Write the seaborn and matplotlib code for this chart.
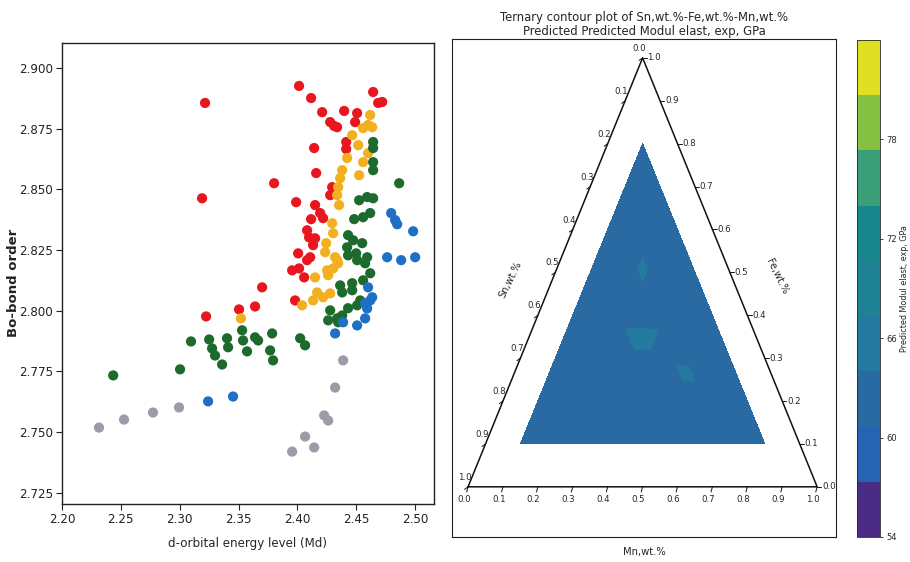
import numpy as np
import pandas as pd
import matplotlib
matplotlib.use("Agg")
import matplotlib.pyplot as plt
import matplotlib.tri as mtri
from matplotlib.colors import ListedColormap
import seaborn as sns

sns.set_theme(style="ticks")
plt.rcParams["font.family"] = ["DejaVu Sans"]

# ---------------- left panel data ----------------
red_md = [2.3215, 2.319, 2.3224, 2.3504, 2.364, 2.370, 2.3802, 2.4014, 2.4116, 2.421,
          2.4278, 2.4312, 2.4337, 2.4397, 2.4507, 2.449, 2.4643, 2.4686, 2.472, 2.4414,
          2.4414, 2.4142, 2.4159, 2.4295, 2.4278, 2.3989, 2.415, 2.4193, 2.4218, 2.4116,
          2.4082, 2.4099, 2.415, 2.4133, 2.4006, 2.4082, 2.4108, 2.3955, 2.4014, 2.4057,
          2.398]
red_bo = [2.8856, 2.8463, 2.7976, 2.8005, 2.8017, 2.8096, 2.8525, 2.8926, 2.8876, 2.8818,
          2.8777, 2.8761, 2.8756, 2.8823, 2.8814, 2.8777, 2.8901, 2.8856, 2.886, 2.8695,
          2.8666, 2.867, 2.8567, 2.8509, 2.8476, 2.8447, 2.8435, 2.8402, 2.8381, 2.8377,
          2.8331, 2.8302, 2.8298, 2.827, 2.8236, 2.8208, 2.822, 2.8166, 2.8174, 2.8137,
          2.8042]

orange_md = [2.352, 2.404, 2.4618, 2.460, 2.4558, 2.4635, 2.4465, 2.4516, 2.460, 2.4422,
             2.4558, 2.4524, 2.438, 2.4363, 2.4346, 2.4337, 2.4354, 2.4295, 2.4303, 2.4244,
             2.4235, 2.432, 2.4346, 2.4303, 2.4252, 2.415, 2.4167, 2.4133, 2.4218, 2.4278,
             2.4337, 2.4261]
orange_bo = [2.7968, 2.8022, 2.8806, 2.8765, 2.8752, 2.8756, 2.8723, 2.8682, 2.8649, 2.8629,
             2.8612, 2.8558, 2.8579, 2.8546, 2.8509, 2.8476, 2.8435, 2.836, 2.8319, 2.8278,
             2.8241, 2.822, 2.8195, 2.8174, 2.8166, 2.8137, 2.8075, 2.8042, 2.8055, 2.8071,
             2.8208, 2.8146]

green_md = [2.2435, 2.3003, 2.3096, 2.325, 2.3275, 2.330, 2.336, 2.3402, 2.3411, 2.353,
            2.3538, 2.3572, 2.364, 2.3666, 2.3785, 2.3768, 2.3793, 2.4023, 2.4065, 2.4643,
            2.4643, 2.4643, 2.4643, 2.4864, 2.4524, 2.4592, 2.4643, 2.4482, 2.4558, 2.4618,
            2.443, 2.4473, 2.455, 2.4422, 2.443, 2.4499, 2.4592, 2.4363, 2.438, 2.4465,
            2.4558, 2.4278, 2.4261, 2.4337, 2.438, 2.443, 2.4507, 2.4533, 2.4507, 2.4575,
            2.4618, 2.4346, 2.4465]
green_bo = [2.7733, 2.7758, 2.7873, 2.7881, 2.7844, 2.7815, 2.7778, 2.7886, 2.7849, 2.7919,
            2.7877, 2.7832, 2.789, 2.7877, 2.7906, 2.7836, 2.7795, 2.7886, 2.7857, 2.8695,
            2.867, 2.8612, 2.8579, 2.8525, 2.8455, 2.8468, 2.8463, 2.8377, 2.8385, 2.8402,
            2.8311, 2.829, 2.8278, 2.8261, 2.8228, 2.8236, 2.822, 2.8104, 2.8075, 2.8113,
            2.8125, 2.8001, 2.796, 2.7968, 2.798, 2.801, 2.8022, 2.8042, 2.8208, 2.8195,
            2.8154, 2.7952, 2.8084]

blue_md = [2.3241, 2.3453, 2.432, 2.4507, 2.4575, 2.4592, 2.460, 2.4618, 2.4575, 2.4635,
           2.4388, 2.4796, 2.483, 2.4847, 2.4983, 2.4762, 2.4881, 2.500]
blue_bo = [2.7626, 2.7646, 2.7906, 2.7939, 2.7968, 2.8009, 2.8096, 2.8042, 2.803, 2.8055,
           2.7952, 2.8402, 2.8373, 2.8356, 2.8327, 2.822, 2.8208, 2.822]

gray_md = [2.2314, 2.2527, 2.2773, 2.2994, 2.4388, 2.432, 2.4227, 2.4261, 2.4065, 2.4142,
           2.3955]
gray_bo = [2.7518, 2.7551, 2.758, 2.7601, 2.7795, 2.7683, 2.7568, 2.7547, 2.7481, 2.7436,
           2.7419]

x_ticks = [2.20, 2.25, 2.30, 2.35, 2.40, 2.45, 2.50]
y_ticks = [2.725, 2.750, 2.775, 2.800, 2.825, 2.850, 2.875, 2.900]

group_colors = {"red": "#e8161f", "orange": "#f2b01e", "green": "#1d6b2c",
                "blue": "#1f6fc4", "gray": "#9c9ca8"}

# ---------------- ternary data (Fe, Mn, value); Sn = 1 - Fe - Mn ----------------
tern_fe = [0.1, 0.1, 0.1, 0.1, 0.1, 0.1, 0.1, 0.1,
           0.2, 0.2, 0.2, 0.2, 0.2, 0.2, 0.2,
           0.3, 0.3, 0.3, 0.3, 0.3, 0.3,
           0.4, 0.4, 0.4, 0.4, 0.4,
           0.5, 0.5, 0.5, 0.5,
           0.6, 0.6, 0.6,
           0.7, 0.7,
           0.8,
           0.34, 0.51, 0.27]
tern_mn = [0.1, 0.2, 0.3, 0.4, 0.5, 0.6, 0.7, 0.8,
           0.1, 0.2, 0.3, 0.4, 0.5, 0.6, 0.7,
           0.1, 0.2, 0.3, 0.4, 0.5, 0.6,
           0.1, 0.2, 0.3, 0.4, 0.5,
           0.1, 0.2, 0.3, 0.4,
           0.1, 0.2, 0.3,
           0.1, 0.2,
           0.1,
           0.33, 0.245, 0.49]
tern_val = [61.6, 61.8, 61.9, 61.8, 62.0, 61.9, 61.7, 61.6,
            61.9, 62.0, 62.1, 62.1, 62.2, 62.0, 61.8,
            62.0, 62.1, 62.2, 62.2, 62.2, 62.0,
            62.0, 62.2, 62.2, 62.1, 62.0,
            62.0, 62.2, 62.2, 62.1,
            62.0, 62.1, 62.0,
            61.9, 62.0,
            61.8,
            65.6, 64.7, 64.9]

levels = [54.0, 57.33, 60.67, 64.0, 67.33, 70.67, 74.0, 77.33, 80.67, 84.0]
band_colors = ["#4a2c84", "#2563b3", "#2a6aa3", "#237a9e", "#1e8294",
               "#18878c", "#3a9f78", "#86c043", "#dfe024"]
cbar_ticks = [54, 60, 66, 72, 78]
tern_ticks = [0.0, 0.1, 0.2, 0.3, 0.4, 0.5, 0.6, 0.7, 0.8, 0.9, 1.0]

# ---------------- figure ----------------
fig = plt.figure(figsize=(9.1, 5.62), dpi=100)

# left scatter
frames = []
for name, xs, ys in [("red", red_md, red_bo), ("orange", orange_md, orange_bo),
                     ("green", green_md, green_bo), ("blue", blue_md, blue_bo),
                     ("gray", gray_md, gray_bo)]:
    frames.append(pd.DataFrame({"Md": xs, "Bo": ys, "group": name}))
df = pd.concat(frames, ignore_index=True)

ax = fig.add_axes([62 / 910, 58 / 562, 372 / 910, 461 / 562])
sns.scatterplot(data=df, x="Md", y="Bo", hue="group", palette=group_colors,
                s=54, edgecolor="none", linewidth=0, legend=False, ax=ax)
ax.set_xlim(2.20, 2.516)
ax.set_ylim(2.7203, 2.9103)
ax.set_xticks(x_ticks)
ax.set_yticks(y_ticks)
ax.set_xticklabels([f"{v:.2f}" for v in x_ticks], fontsize=8.6)
ax.set_yticklabels([f"{v:.3f}" for v in y_ticks], fontsize=8.6)
ax.tick_params(direction="out", length=4, width=0.8, colors="#222222", pad=2.5)
for sp in ax.spines.values():
    sp.set_visible(True)
    sp.set_color("#222222")
    sp.set_linewidth(1.0)
ax.set_xlabel("d-orbital energy level (Md)", fontsize=8.6, labelpad=8)
ax.set_ylabel("Bo-bond order", fontsize=9.5, fontweight="bold", color="#222222")
ax.yaxis.set_label_coords(-0.112, 0.48)

# ternary panel
ax2 = fig.add_axes([452 / 910, 25 / 562, 384 / 910, 498 / 562])
ax2.set_facecolor("white")
tx = [m + f / 2 for f, m in zip(tern_fe, tern_mn)]
ty = list(tern_fe)
tri = mtri.Triangulation(tx, ty)
cmap = ListedColormap(band_colors)
cs = ax2.tricontourf(tri, tern_val, levels=levels, cmap=cmap, vmin=levels[0], vmax=levels[-1])
ax2.plot([0, 1, 0.5, 0], [0, 0, 1, 0], color="#111111", lw=1.1)
ax2.set_xlim(-0.046, 1.054)
ax2.set_ylim(-0.117, 1.044)
ax2.set_xticks([])
ax2.set_yticks([])
for sp in ax2.spines.values():
    sp.set_color("#222222")
    sp.set_linewidth(0.8)

tfs = 6.2
for t in tern_ticks:
    lab = f"{t:.1f}"
    # bottom axis (Mn)
    ax2.plot([t, t - 0.004], [0, -0.012], color="#111111", lw=0.7)
    ax2.text(t - 0.012, -0.030, lab, fontsize=tfs, ha="center", va="center")
    # left axis (Sn): Sn = t at Fe = 1 - t
    lx, ly = (1 - t) / 2, 1 - t
    ax2.plot([lx, lx - 0.010], [ly, ly - 0.006], color="#111111", lw=0.7)
    ax2.text(lx - 0.010, ly + 0.022, lab, fontsize=tfs, ha="center", va="center")
    # right axis (Fe): Fe = t
    rx, ry = 1 - t / 2, t
    ax2.plot([rx, rx + 0.012], [ry, ry], color="#111111", lw=0.7)
    ax2.text(rx + 0.014, ry, lab, fontsize=tfs, ha="left", va="center")

ax2.text(0.12, 0.483, "Sn,wt.%", fontsize=7, rotation=64, ha="center", va="center")
ax2.text(0.885, 0.49, "Fe,wt.%", fontsize=7, rotation=-64, ha="center", va="center")
ax2.set_xlabel("Mn,wt.%", fontsize=7.2, labelpad=7)
ax2.set_title("Ternary contour plot of Sn,wt.%-Fe,wt.%-Mn,wt.%\n"
              "Predicted Predicted Modul elast, exp, GPa", fontsize=8.4, pad=3,
              linespacing=1.1)

# colorbar
cax = fig.add_axes([857 / 910, 25 / 562, 23 / 910, 497 / 562])
cb = fig.colorbar(cs, cax=cax, ticks=cbar_ticks)
cb.ax.tick_params(labelsize=6, length=2.5, width=0.6, pad=2)
cb.outline.set_linewidth(0.6)
cb.set_label("Predicted Modul elast, exp, GPa", fontsize=5.8, labelpad=2)

fig.savefig("out.png", dpi=100, facecolor="white")
